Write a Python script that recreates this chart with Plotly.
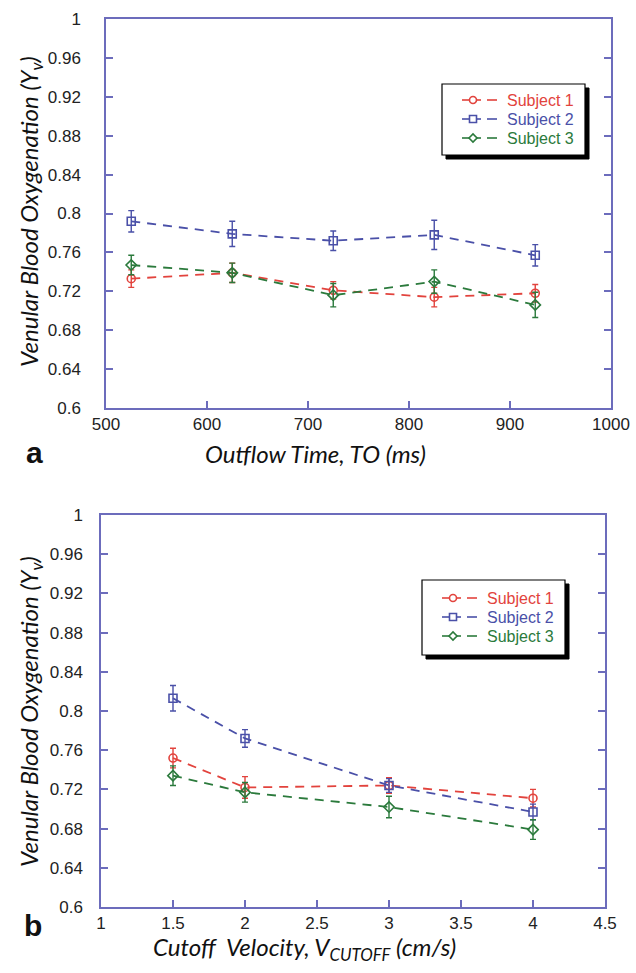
import plotly.graph_objects as go

# ---------------- data ----------------
subject_names = ["Subject 1", "Subject 2", "Subject 3"]

outflow_time = [525, 625, 725, 825, 925]
a_s1 = [0.733, 0.739, 0.721, 0.714, 0.718]
a_s1_err = [0.009, 0.010, 0.009, 0.010, 0.009]
a_s2 = [0.792, 0.779, 0.772, 0.778, 0.757]
a_s2_err = [0.011, 0.013, 0.010, 0.015, 0.011]
a_s3 = [0.747, 0.739, 0.716, 0.730, 0.706]
a_s3_err = [0.010, 0.010, 0.012, 0.012, 0.013]

cutoff_velocity = [1.5, 2, 3, 4]
b_s1 = [0.752, 0.722, 0.724, 0.711]
b_s1_err = [0.010, 0.011, 0.008, 0.009]
b_s2 = [0.813, 0.772, 0.724, 0.697]
b_s2_err = [0.013, 0.009, 0.007, 0.008]
b_s3 = [0.734, 0.717, 0.702, 0.679]
b_s3_err = [0.010, 0.010, 0.011, 0.010]

y_ticks = [0.6, 0.64, 0.68, 0.72, 0.76, 0.8, 0.84, 0.88, 0.92, 0.96, 1]
y_tick_labels = ["0.6", "0.64", "0.68", "0.72", "0.76", "0.8", "0.84", "0.88", "0.92", "0.96", "1"]
xa_ticks = [500, 600, 700, 800, 900, 1000]
xa_tick_labels = ["500", "600", "700", "800", "900", "1000"]
xb_ticks = [1, 1.5, 2, 2.5, 3, 3.5, 4, 4.5]
xb_tick_labels = ["1", "1.5", "2", "2.5", "3", "3.5", "4", "4.5"]

# ---------------- styling ----------------
W, H = 636, 973
colors = ["#e2433d", "#4a50a8", "#2b7a3c"]
symbols = ["circle-open", "square-open", "diamond-open"]
axis_color = "#6c6cbc"
tick_font = dict(family="Liberation Sans, Arial, sans-serif", size=17, color="#222222")
title_font = dict(family="Lato, Open Sans, sans-serif", size=24, color="#111111")
legend_font_family = "Liberation Sans, Arial, sans-serif"


def px(x):
    return x / W


def py(y):
    return 1 - y / H


fig = go.Figure()

series_a = [(a_s1, a_s1_err), (a_s2, a_s2_err), (a_s3, a_s3_err)]
series_b = [(b_s1, b_s1_err), (b_s2, b_s2_err), (b_s3, b_s3_err)]

for i, (vals, errs) in enumerate(series_a):
    fig.add_trace(go.Scatter(
        x=outflow_time, y=vals, mode="lines+markers", name=subject_names[i], showlegend=False,
        line=dict(color=colors[i], width=1.8, dash="9px,7px"),
        marker=dict(symbol=symbols[i], size=8, color=colors[i], line=dict(width=1.6, color=colors[i])),
        error_y=dict(type="data", array=errs, color=colors[i], thickness=1.4, width=3),
        xaxis="x", yaxis="y",
    ))

for i, (vals, errs) in enumerate(series_b):
    fig.add_trace(go.Scatter(
        x=cutoff_velocity, y=vals, mode="lines+markers", name=subject_names[i], showlegend=False,
        line=dict(color=colors[i], width=1.8, dash="9px,7px"),
        marker=dict(symbol=symbols[i], size=8, color=colors[i], line=dict(width=1.6, color=colors[i])),
        error_y=dict(type="data", array=errs, color=colors[i], thickness=1.4, width=3),
        xaxis="x2", yaxis="y2",
    ))

common_x = dict(showline=True, linecolor=axis_color, linewidth=1.5, mirror=True,
                ticks="inside", ticklen=7, tickcolor=axis_color, tickwidth=1.5,
                showgrid=False, zeroline=False, tickfont=tick_font, automargin=False)
common_y = dict(showline=True, linecolor=axis_color, linewidth=1.5, mirror="ticks",
                ticks="inside", ticklen=7, tickcolor=axis_color, tickwidth=1.5,
                showgrid=False, zeroline=False, tickfont=tick_font, automargin=False,
                range=[0.6, 1], tickvals=y_ticks, ticktext=y_tick_labels)

fig.update_layout(
    width=W, height=H, autosize=False,
    margin=dict(l=0, r=0, t=0, b=0),
    paper_bgcolor="white", plot_bgcolor="white",
    xaxis=dict(common_x, domain=[px(106), px(611)], anchor="y", range=[500, 1000],
               tickvals=xa_ticks, ticktext=xa_tick_labels),
    yaxis=dict(common_y, domain=[py(408), py(19)], anchor="x", ticklabelstandoff=20),
    xaxis2=dict(common_x, domain=[px(101), px(605)], anchor="y2", range=[1, 4.5],
                tickvals=xb_ticks, ticktext=xb_tick_labels),
    yaxis2=dict(common_y, domain=[py(907), py(515)], anchor="x2", ticklabelstandoff=13),
    showlegend=False,
)

# ---- legend boxes (drawn key with drop shadow) ----
shapes = []
annotations = []
legend_boxes = [(442, 84, 585, 155, 100), (422, 580, 565, 655, 598)]
for (x0, y0, x1, y1, row0) in legend_boxes:
    shapes.append(dict(type="rect", xref="paper", yref="paper", layer="above",
                       x0=px(x0 + 4), x1=px(x1 + 4), y0=py(y1 + 4), y1=py(y0 + 4),
                       fillcolor="black", line=dict(color="black", width=1)))
    shapes.append(dict(type="rect", xref="paper", yref="paper", layer="above",
                       x0=px(x0), x1=px(x1), y0=py(y1), y1=py(y0),
                       fillcolor="white", line=dict(color="black", width=1.2)))
    for i in range(3):
        cy = row0 + 19 * i
        c = colors[i]
        sx = x0 + 20  # start of key stub
        mx = sx + 11  # marker centre
        shapes.append(dict(type="line", xref="paper", yref="paper", layer="above",
                           x0=px(sx), x1=px(sx + 19), y0=py(cy), y1=py(cy),
                           line=dict(color=c, width=1.6)))
        shapes.append(dict(type="line", xref="paper", yref="paper", layer="above",
                           x0=px(sx + 25), x1=px(sx + 35), y0=py(cy), y1=py(cy),
                           line=dict(color=c, width=1.6)))
        r = 3.5
        if i == 0:
            shapes.append(dict(type="circle", xref="paper", yref="paper", layer="above",
                               x0=px(mx - r), x1=px(mx + r), y0=py(cy + r), y1=py(cy - r),
                               fillcolor="white", line=dict(color=c, width=1.6)))
        elif i == 1:
            shapes.append(dict(type="rect", xref="paper", yref="paper", layer="above",
                               x0=px(mx - r), x1=px(mx + r), y0=py(cy + r), y1=py(cy - r),
                               fillcolor="white", line=dict(color=c, width=1.6)))
        else:
            d = 4
            path = (f"M {px(mx - d)} {py(cy)} L {px(mx)} {py(cy - d)} "
                    f"L {px(mx + d)} {py(cy)} L {px(mx)} {py(cy + d)} Z")
            shapes.append(dict(type="path", xref="paper", yref="paper", layer="above",
                               path=path, fillcolor="white", line=dict(color=c, width=1.6)))
        annotations.append(dict(text=subject_names[i], x=px(x0 + 63), y=py(cy),
                                xref="paper", yref="paper", showarrow=False,
                                xanchor="left", yanchor="middle",
                                font=dict(family=legend_font_family, size=16, color=c)))
fig.update_layout(shapes=shapes)

titles = [
    dict(text="<i>Venular Blood Oxygenation (Y<sub>v</sub>)</i>", x=px(30), y=py(212), textangle=-90),
    dict(text="<i>Venular Blood Oxygenation (Y<sub>v</sub>)</i>", x=px(30), y=py(712), textangle=-90),
    dict(text="<i>Outflow Time, TO (ms)</i>", x=px(315), y=py(453)),
    dict(text="<i>Cutoff  Velocity, V<sub>CUTOFF</sub> (cm/s)</i>", x=px(304), y=py(948)),
]
for a in titles:
    a.update(xref="paper", yref="paper", showarrow=False, font=title_font,
             xanchor="center", yanchor="middle")
annotations += titles
annotations += [
    dict(text="<b>a</b>", x=px(24), y=py(452), xref="paper", yref="paper", showarrow=False,
         font=dict(family="Liberation Sans, Arial, sans-serif", size=30, color="#111111")),
    dict(text="<b>b</b>", x=px(22), y=py(944), xref="paper", yref="paper", showarrow=False,
         font=dict(family="Liberation Sans, Arial, sans-serif", size=30, color="#111111")),
]
fig.update_layout(annotations=annotations)

fig.write_html("out.html", config={"displayModeBar": False},
               post_script="document.body.style.margin='0';document.body.style.padding='0';")
